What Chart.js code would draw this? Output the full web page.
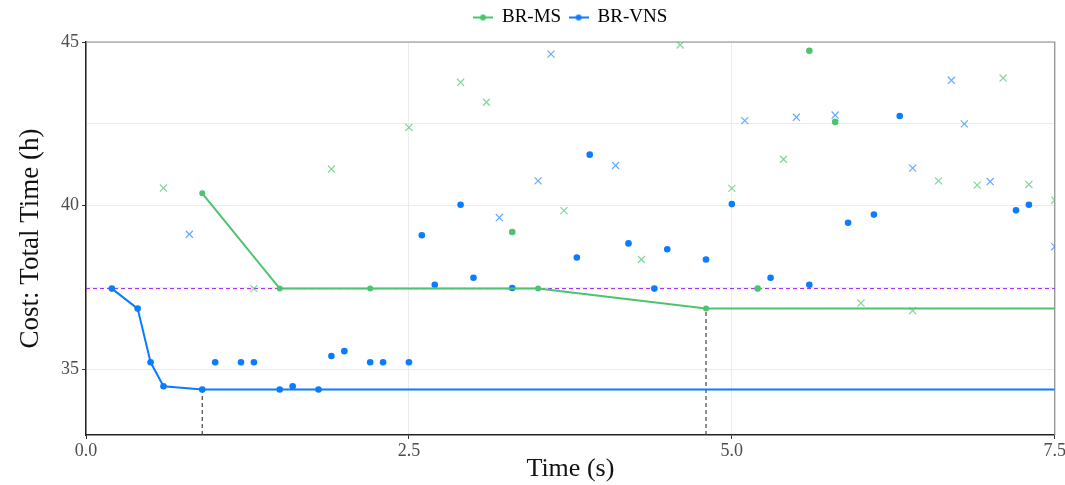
<!DOCTYPE html>
<html>
<head>
<meta charset="utf-8">
<script src="https://cdn.jsdelivr.net/npm/chart.js@4.4.1/dist/chart.umd.min.js"></script>
<style>
    html, body { margin: 0; padding: 0; background: #fff; overflow: hidden; }
    #wrap { width: 1067px; height: 485px; position: relative; }
</style>
</head>
<body>
<div id="wrap"><canvas id="costChart"></canvas></div>
<script>
// Best-so-far trajectories (joined by lines)
const msBestTime = [0.9, 1.5, 2.2, 3.5, 4.8];
const msBestCost = [40.38, 37.47, 37.47, 37.47, 36.86];
const vnsBestTime = [0.2, 0.4, 0.5, 0.6, 0.9];
const vnsBestCost = [37.47, 36.86, 35.22, 34.49, 34.39];

// Other accepted solutions (dots)
const msDotTime = [3.3, 5.2, 5.6, 5.8];
const msDotCost = [39.2, 37.47, 44.73, 42.56];
const vnsDotTime = [1.0, 1.2, 1.3, 1.5, 1.6, 1.8, 1.9, 2.0, 2.2, 2.3, 2.5, 2.6, 2.7, 2.9, 3.0, 3.3, 3.8, 3.9,
    4.2, 4.4, 4.5, 4.8, 5.0, 5.3, 5.6, 5.9, 6.1, 6.3, 7.2, 7.3];
const vnsDotCost = [35.22, 35.22, 35.22, 34.39, 34.49, 34.39, 35.41, 35.56, 35.22, 35.22, 35.22, 39.1, 37.59, 40.03, 37.8, 37.49, 38.42, 41.56,
    38.85, 37.47, 38.67, 38.36, 40.05, 37.8, 37.59, 39.48, 39.73, 42.74, 39.86, 40.03];

// Rejected solutions (crosses)
const msCrossTime = [0.6, 1.3, 1.9, 2.5, 2.9, 3.1, 3.7, 4.3, 4.6, 5.0, 5.4, 6.0, 6.4, 6.6, 6.9, 7.1, 7.3, 7.5];
const msCrossCost = [40.54, 37.47, 41.12, 42.39, 43.77, 43.16, 39.85, 38.36, 44.91, 40.53, 41.42, 37.03, 36.8, 40.76, 40.63, 43.9, 40.65, 40.17];
const vnsCrossTime = [0.8, 3.2, 3.5, 3.6, 4.1, 5.1, 5.5, 5.8, 6.4, 6.7, 6.8, 7.0, 7.5];
const vnsCrossCost = [39.13, 39.64, 40.76, 44.63, 41.23, 42.6, 42.7, 42.77, 41.15, 43.83, 42.5, 40.74, 38.75];

// Reference cost and axis ranges
const referenceCost = 37.47;
const xTicks = [0, 2.5, 5, 7.5];
const yTicks = [35, 37.5, 40, 42.5, 45];
const xMin = 0, xMax = 7.5, yMin = 33, yMax = 45;

const colors = {
    ms: '#4cc46f',
    msLight: 'rgba(76,196,111,0.7)',
    vns: '#0a7cff',
    vnsLight: 'rgba(10,124,255,0.65)',
    ref: 'rgb(160,32,240)',
    drop: '#444444'
};

const pts = (xs, ys) => xs.map((x, i) => ({ x: x, y: ys[i] }));

// Line extended to the right edge from the last best value
function bestLine(xs, ys) {
    const d = pts(xs, ys);
    d.push({ x: xMax, y: ys[ys.length - 1] });
    return d;
}

function legendIcon(color) {
    const c = document.createElement('canvas');
    c.width = 20; c.height = 10;
    const g = c.getContext('2d');
    g.strokeStyle = color; g.lineWidth = 2;
    g.beginPath(); g.moveTo(0, 5); g.lineTo(20, 5); g.stroke();
    g.fillStyle = color;
    g.beginPath(); g.arc(10, 5, 3, 0, Math.PI * 2); g.fill();
    return c;
}

const serif = "'Liberation Serif', 'DejaVu Serif', serif";

const msLastX = msBestTime[msBestTime.length - 1], msLastY = msBestCost[msBestCost.length - 1];
const vnsLastX = vnsBestTime[vnsBestTime.length - 1], vnsLastY = vnsBestCost[vnsBestCost.length - 1];

const datasets = [
    {
        label: 'BR-MS', type: 'line', data: bestLine(msBestTime, msBestCost),
        borderColor: colors.ms, backgroundColor: colors.ms, borderWidth: 2,
        pointRadius: ctx => ctx.dataIndex < msBestTime.length ? 3 : 0, pointBorderWidth: 0
    },
    {
        label: 'BR-VNS', type: 'line', data: bestLine(vnsBestTime, vnsBestCost),
        borderColor: colors.vns, backgroundColor: colors.vns, borderWidth: 2,
        pointRadius: ctx => ctx.dataIndex < vnsBestTime.length ? 3.3 : 0, pointBorderWidth: 0
    },
    {
        label: 'ms-dots', data: pts(msDotTime, msDotCost), showLine: false,
        backgroundColor: colors.ms, pointRadius: 3.3, pointBorderWidth: 0
    },
    {
        label: 'vns-dots', data: pts(vnsDotTime, vnsDotCost), showLine: false,
        backgroundColor: colors.vns, pointRadius: 3.3, pointBorderWidth: 0
    },
    {
        label: 'ms-cross', data: pts(msCrossTime, msCrossCost), showLine: false,
        pointStyle: 'crossRot', borderColor: colors.msLight, pointRadius: 5, pointBorderWidth: 1.2
    },
    {
        label: 'vns-cross', data: pts(vnsCrossTime, vnsCrossCost), showLine: false,
        pointStyle: 'crossRot', borderColor: colors.vnsLight, pointRadius: 5, pointBorderWidth: 1.2
    },
    {
        label: 'ref', type: 'line', data: [{ x: xMin, y: referenceCost }, { x: xMax, y: referenceCost }],
        borderColor: colors.ref, borderWidth: 1, borderDash: [4, 3], pointRadius: 0
    },
    {
        label: 'drop-ms', type: 'line', data: [{ x: msLastX, y: yMin }, { x: msLastX, y: msLastY }],
        borderColor: colors.drop, borderWidth: 1.2, borderDash: [4, 3], pointRadius: 0
    },
    {
        label: 'drop-vns', type: 'line', data: [{ x: vnsLastX, y: yMin }, { x: vnsLastX, y: vnsLastY }],
        borderColor: colors.drop, borderWidth: 1.2, borderDash: [4, 3], pointRadius: 0
    }
];

// Top/right panel border, legend centred on the panel, a little more room under the legend
const panelTweaks = {
    id: 'panelTweaks',
    beforeLayout(chart) {
        const lg = chart.legend;
        if (lg && !lg._patched) {
            const fit = lg.fit.bind(lg);
            lg.fit = function () { fit(); this.height += 5; };
            lg._patched = true;
        }
    },
    afterLayout(chart) {
        const lg = chart.legend, a = chart.chartArea;
        if (!lg) return;
        const shift = (a.left + a.right) / 2 - (lg.left + lg.right) / 2;
        lg.left += shift; lg.right += shift;
    },
    beforeDatasetsDraw(chart) {
        const a = chart.chartArea, g = chart.ctx;
        g.save();
        g.strokeStyle = '#8a8a8a'; g.lineWidth = 1.2;
        g.beginPath();
        g.moveTo(a.left, a.top); g.lineTo(a.right, a.top); g.lineTo(a.right, a.bottom);
        g.stroke();
        g.restore();
    }
};

new Chart(document.getElementById('costChart'), {
    type: 'scatter',
    data: { datasets: datasets },
    plugins: [panelTweaks],
    options: {
        responsive: true,
        maintainAspectRatio: false,
        animation: false,
        layout: { padding: { top: 0, right: 0, left: 0, bottom: 0 } },
        plugins: {
            tooltip: { enabled: false },
            legend: {
                position: 'top',
                labels: {
                    usePointStyle: true,
                    font: { family: serif, size: 19 },
                    color: '#111',
                    padding: 8,
                    boxWidth: 20,
                    generateLabels: chart => chart.data.datasets.slice(0, 2).map((ds, i) => ({
                        text: ds.label,
                        pointStyle: legendIcon(ds.borderColor),
                        fillStyle: ds.borderColor,
                        strokeStyle: ds.borderColor,
                        lineWidth: 0,
                        datasetIndex: i,
                        hidden: false
                    }))
                }
            }
        },
        scales: {
            x: {
                type: 'linear', min: xMin, max: xMax,
                afterBuildTicks: s => { s.ticks = xTicks.map(v => ({ value: v })); },
                afterFit: s => { s.height = 50; },
                ticks: {
                    font: { family: serif, size: 18 }, color: '#4d4d4d', padding: 1,
                    callback: v => v.toFixed(1)
                },
                grid: { color: '#ebebeb', tickLength: 4, tickColor: '#333' },
                border: { color: '#222', width: 1.5 },
                title: {
                    display: true, text: 'Time (s)', color: '#111',
                    font: { family: serif, size: 26 }, padding: { top: 0, bottom: 0 }
                }
            },
            y: {
                type: 'linear', min: yMin, max: yMax,
                afterBuildTicks: s => { s.ticks = yTicks.map(v => ({ value: v })); },
                afterFit: s => { s.width = 86; },
                ticks: {
                    font: { family: serif, size: 18 }, color: '#4d4d4d', padding: 3,
                    callback: v => (v % 5 === 0 ? String(v) : '')
                },
                grid: {
                    color: '#ebebeb', tickLength: 4,
                    tickColor: ctx => (ctx.tick && ctx.tick.value % 5 === 0 ? '#333' : 'rgba(0,0,0,0)')
                },
                border: { color: '#222', width: 1.5 },
                title: {
                    display: true, text: 'Cost: Total Time (h)', color: '#111',
                    font: { family: serif, size: 27 }, padding: { top: 15, bottom: 0 }
                }
            }
        }
    }
});
</script>
</body>
</html>
